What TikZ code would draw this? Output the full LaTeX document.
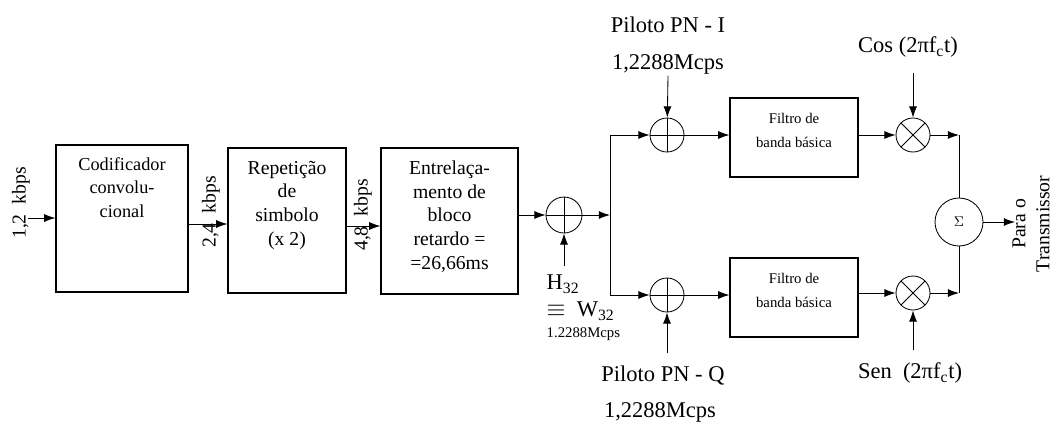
\documentclass[tikz,border=0pt]{standalone}
\usepackage{fontspec}
\setmainfont{Liberation Serif}
\usetikzlibrary{arrows.meta,positioning,calc}

\tikzset{
  blk/.style={draw, thick, rectangle, inner sep=0pt},
  blktxt/.style={align=center, font=\fontsize{14}{16.8}\selectfont, inner sep=0pt},
  filtxt/.style={align=center, font=\fontsize{10.5}{17}\selectfont, inner sep=0pt},
  lbl/.style={font=\fontsize{16}{18}\selectfont, inner sep=1pt},
  small/.style={font=\fontsize{10.5}{12}\selectfont, inner sep=1pt},
  rate/.style={rotate=90, font=\fontsize{14}{16}\selectfont, inner sep=0pt},
  xorsym/.style={circle, draw, semithick, inner sep=0pt, minimum size=#1,
    path picture={\draw[semithick] (path picture bounding box.north) -- (path picture bounding box.south)
      (path picture bounding box.west) -- (path picture bounding box.east);}},
  mult/.style={circle, draw, semithick, inner sep=0pt, minimum size=0.85cm,
    path picture={\draw[semithick] (path picture bounding box.north west) -- (path picture bounding box.south east)
      (path picture bounding box.south west) -- (path picture bounding box.north east);}},
  sumsym/.style={circle, draw, semithick, inner sep=0pt, minimum size=1.2cm, font=\fontsize{10}{12}\selectfont},
  sig/.style={semithick, -{Latex[length=2.8mm,width=2mm]}},
}

\begin{document}
\begin{tikzpicture}[x=0.025cm, y=-0.025cm]
	\useasboundingbox (0,0) rectangle (1056,423);
	
	% chain of blocks
	\node[blk, minimum width=3.3cm, minimum height=3.675cm] (cod) at (122,218.5) {};
	\node[blktxt, font=\fontsize{13}{16.5}\selectfont, below=0.33cm of cod.north] (codtxt) {Codificador\\convolu-\\cional};
	
	\node[blk, minimum width=2.95cm, minimum height=3.625cm] (rep) at (287,220.5) {};
	\node[blktxt, below=0.33cm of rep.north] (reptxt) {Repetição\\de\\simbolo\\(x 2)};
	
	\node[blk, minimum width=3.425cm, minimum height=3.65cm] (ent) at (449.5,221) {};
	\node[blktxt, below=0.33cm of ent.north] (enttxt) {Entrelaça-\\mento de\\bloco\\retardo =\\=26,66ms};
	
	\coordinate (in) at (28,218);
	\draw[sig] (in) -- (cod.west |- in);
	\node[rate] (r12) at (21,203) {1,2\ \ kbps};
	
	\draw[sig] (cod.east |- 0,224) -- (rep.west |- 0,224);
	\node[rate] (r24) at (211,212) {2,4\ \ kbps};
	
	\draw[sig] (rep.east |- 0,226) -- (ent.west |- 0,226);
	\node[rate] (r48) at (363,215) {4,8\ \ kbps};
	
	% walsh
	\node[xorsym=0.9cm] (xw) at (564,215) {};
	\draw[sig] (ent.east |- xw) -- (xw);
	\coordinate (hin) at (564,266);
	\draw[sig] (hin) -- (xw);
	\node[lbl, anchor=west] (h32) at (545,284) {H\textsubscript{32}};
	\node[lbl, anchor=west] (w32) at (545,311) {$\equiv$\ \ W\textsubscript{32}};
	\node[small, anchor=west] (wr) at (545,334) {1.2288Mcps};
	
	% split I / Q
	\coordinate (split) at (610,215);
	\draw[sig] (xw) -- (split);
	\node[xorsym=0.85cm] (xI) at (667,135) {};
	\node[xorsym=0.85cm] (xQ) at (667,295) {};
	\draw[sig] (split) |- (xI);
	\draw[sig] (split) |- (xQ);
	
	\node[lbl] (pnI) at (668,25) {Piloto PN - I};
	\node[lbl] (rI) at (668,64) {1,2288Mcps};
	\draw[sig] (rI.south) -- (xI);
	\node[lbl] (pnQ) at (663,376) {Piloto PN - Q};
	\node[lbl] (rQ) at (660,412) {1,2288Mcps};
	\coordinate (qin) at (667,353);
	\draw[sig] (qin) -- (xQ);
	
	% filters
	\node[blk, minimum width=3.2cm, minimum height=1.975cm] (fI) at (794,137.5) {};
	\node[filtxt, below=0.4cm of fI.north] (fItxt) {Filtro de\\banda básica};
	\node[blk, minimum width=3.2cm, minimum height=1.975cm] (fQ) at (794,297.5) {};
	\node[filtxt, below=0.4cm of fQ.north] (fQtxt) {Filtro de\\banda básica};
	\draw[sig] (xI) -- (xI -| fI.west);
	\draw[sig] (xQ) -- (xQ -| fQ.west);
	
	% carriers
	\node[mult] (mI) at (913,135) {};
	\node[mult] (mQ) at (913,293) {};
	\draw[sig] (fI.east |- mI) -- (mI);
	\draw[sig] (fQ.east |- mQ) -- (mQ);
	\node[lbl] (cos) at (908,47) {Cos (2πf\textsubscript{c}t)};
	\coordinate (cin) at (913,73);
	\draw[sig] (cin) -- (mI);
	\node[lbl] (sen) at (910,373) {Sen\ \ (2πf\textsubscript{c}t)};
	\coordinate (sin) at (913,350);
	\draw[sig] (sin) -- (mQ);
	
	% sum
	\node[sumsym] (sum) at (959,222) {$\Sigma$};
	\draw[sig] (mI) -- (mI -| sum.north);
	\draw[semithick] (mI -| sum.north) -- (sum.north);
	\draw[sig] (mQ) -- (mQ -| sum.south);
	\draw[semithick] (mQ -| sum.south) -- (sum.south);
	\coordinate (out) at (1015,222);
	\draw[sig] (sum) -- (out);
	\node[rotate=90, align=center, inner sep=0pt, font=\fontsize{14}{17}\selectfont] (tx) at (1031,224) {Para o\\Transmissor};
\end{tikzpicture}
\end{document}
